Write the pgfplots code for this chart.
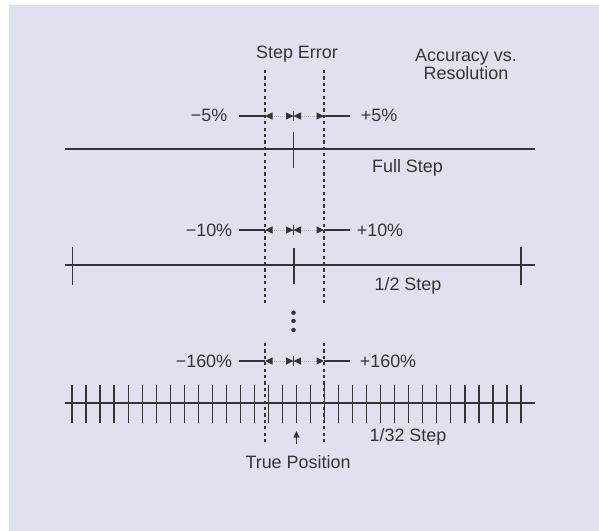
\documentclass[border=0pt]{standalone}
\usepackage{pgfplots}
\pgfplotsset{compat=1.18}
\usepackage{fontspec}
\setmainfont{Liberation Sans}
\definecolor{panel}{RGB}{223,226,238}
\definecolor{ink}{RGB}{52,52,52}
\definecolor{faint}{RGB}{175,178,190}
\tikzset{lbl/.style={font=\fontsize{18}{21}\selectfont, text=ink}}
\begin{document}
\begin{tikzpicture}
\begin{axis}[
  x=1bp, y=1bp, xmin=0, xmax=599, ymin=0, ymax=531, y dir=reverse,
  axis lines=none, clip=false, enlargelimits=false,
  unbounded coords=jump,
]
% background
\addplot[draw=none, fill=white] coordinates {(0,0)(599,0)(599,531)(0,531)} --cycle;
\addplot[draw=none, fill=panel] coordinates {(9,5)(599,5)(599,531)(9,531)} --cycle;

% dashed error lines
\addplot[ink, line width=1.3bp, dash pattern=on 3.2bp off 3.2bp] table {
x y
265 70
265 303
nan nan
324 70
324 303
nan nan
265 343
265 445
nan nan
324 343
324 445
};

% horizontal step lines
\addplot[ink, line width=1.7bp] table {
x y
65 149
535 149
nan nan
65 265
535 265
nan nan
65 403
535 403
};

% full step / half step ticks
\addplot[ink, line width=1.6bp] table {
x y
293.5 132
293.5 168
nan nan
72.3 247
72.3 285
nan nan
294 248
294 284
nan nan
520.7 247
520.7 285
};

% 1/32 step ticks
\addplot[ink, line width=1.7bp] table {
x y
72.30 385
72.30 422.5
nan nan
86.31 385
86.31 422.5
nan nan
100.33 385
100.33 422.5
nan nan
114.34 385
114.34 422.5
nan nan
128.35 385
128.35 422.5
nan nan
142.36 385
142.36 422.5
nan nan
156.38 385
156.38 422.5
nan nan
170.39 385
170.39 422.5
nan nan
184.40 385
184.40 422.5
nan nan
198.41 385
198.41 422.5
nan nan
212.43 385
212.43 422.5
nan nan
226.44 385
226.44 422.5
nan nan
240.45 385
240.45 422.5
nan nan
254.46 385
254.46 422.5
nan nan
268.48 385
268.48 422.5
nan nan
282.49 385
282.49 422.5
nan nan
296.50 385
296.50 422.5
nan nan
310.51 385
310.51 422.5
nan nan
324.53 385
324.53 422.5
nan nan
338.54 385
338.54 422.5
nan nan
352.55 385
352.55 422.5
nan nan
366.56 385
366.56 422.5
nan nan
380.58 385
380.58 422.5
nan nan
394.59 385
394.59 422.5
nan nan
408.60 385
408.60 422.5
nan nan
422.61 385
422.61 422.5
nan nan
436.63 385
436.63 422.5
nan nan
450.64 385
450.64 422.5
nan nan
464.65 385
464.65 422.5
nan nan
478.66 385
478.66 422.5
nan nan
492.68 385
492.68 422.5
nan nan
506.69 385
506.69 422.5
nan nan
520.70 385
520.70 422.5
};

% faint connecting lines between arrows
\addplot[faint, line width=0.6bp, dash pattern=on 1bp off 1bp] table {
x y
272 116
317 116
nan nan
272 230
317 230
nan nan
272 361
317 361
};

% solid leader lines at the outer side of the error lines
\addplot[ink, line width=1.6bp] table {
x y
239 116
265 116
nan nan
324 116
350 116
nan nan
239 230
265 230
nan nan
324 230
350 230
nan nan
239 361
265 361
nan nan
324 361
350 361
};

% small centre marks in the arrow rows
\addplot[ink, line width=0.7bp] table {
x y
293.5 111
293.5 121
nan nan
293.5 225
293.5 235
nan nan
293.5 356
293.5 366
};

% arrowheads, row 1 (y=116)
\addplot[draw=none, fill=ink] coordinates {(265,116)(272.5,112.3)(272.5,119.7)} --cycle;
\addplot[draw=none, fill=ink] coordinates {(293.5,116)(286,112.3)(286,119.7)} --cycle;
\addplot[draw=none, fill=ink] coordinates {(293.5,116)(301,112.3)(301,119.7)} --cycle;
\addplot[draw=none, fill=ink] coordinates {(324,116)(316.5,112.3)(316.5,119.7)} --cycle;
% arrowheads, row 2 (y=230)
\addplot[draw=none, fill=ink] coordinates {(265,230)(272.5,226.3)(272.5,233.7)} --cycle;
\addplot[draw=none, fill=ink] coordinates {(293.5,230)(286,226.3)(286,233.7)} --cycle;
\addplot[draw=none, fill=ink] coordinates {(293.5,230)(301,226.3)(301,233.7)} --cycle;
\addplot[draw=none, fill=ink] coordinates {(324,230)(316.5,226.3)(316.5,233.7)} --cycle;
% arrowheads, row 3 (y=361)
\addplot[draw=none, fill=ink] coordinates {(265,361)(272.5,357.3)(272.5,364.7)} --cycle;
\addplot[draw=none, fill=ink] coordinates {(293.5,361)(286,357.3)(286,364.7)} --cycle;
\addplot[draw=none, fill=ink] coordinates {(293.5,361)(301,357.3)(301,364.7)} --cycle;
\addplot[draw=none, fill=ink] coordinates {(324,361)(316.5,357.3)(316.5,364.7)} --cycle;

% vertical ellipsis dots
\addplot[only marks, mark=*, mark size=2bp, ink] coordinates {(293.5,312.7)(293.5,321)(293.5,330)};

% true position arrow
\addplot[ink, line width=1.2bp] coordinates {(296.5,436)(296.5,444)};
\addplot[draw=none, fill=ink] coordinates {(296.5,431)(293.3,437.5)(299.7,437.5)} --cycle;

% labels
\node[lbl] at (axis cs:297,54) {Step Error};
\node[lbl, align=center, inner sep=0pt] at (axis cs:466,64) {Accuracy vs.\\[-3bp]Resolution};
\node[lbl] at (axis cs:209,115) {−5\%};
\node[lbl] at (axis cs:379,115) {+5\%};
\node[lbl] at (axis cs:407.5,168) {Full Step};
\node[lbl] at (axis cs:209,230) {−10\%};
\node[lbl] at (axis cs:380,230) {+10\%};
\node[lbl] at (axis cs:408,286) {1/2 Step};
\node[lbl] at (axis cs:204,361) {−160\%};
\node[lbl] at (axis cs:388,361) {+160\%};
\node[lbl] at (axis cs:408,437) {1/32 Step};
\node[lbl] at (axis cs:298,462) {True Position};
\end{axis}
\end{tikzpicture}
\end{document}
